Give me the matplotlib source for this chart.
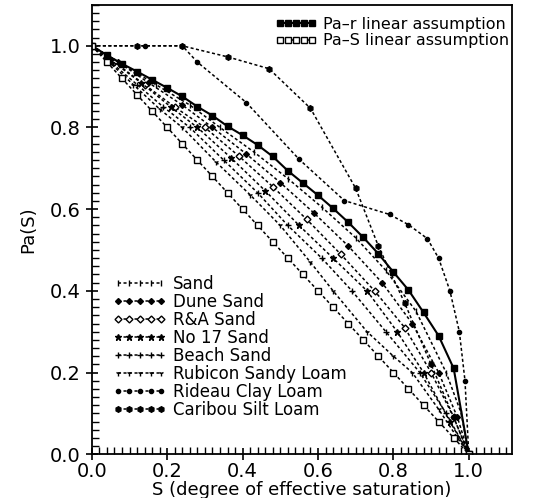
import matplotlib
matplotlib.use("Agg")
import matplotlib.pyplot as plt
from matplotlib.ticker import MultipleLocator

# Pa(S) model curves: linear assumptions
s_lin = [0.0, 0.04, 0.08, 0.12, 0.16, 0.20, 0.24, 0.28, 0.32, 0.36, 0.40, 0.44, 0.48,
         0.52, 0.56, 0.60, 0.64, 0.68, 0.72, 0.76, 0.80, 0.84, 0.88, 0.92, 0.96, 1.0]
pa_r = [1.0, 0.977, 0.956, 0.937, 0.917, 0.897, 0.876, 0.851, 0.829, 0.803, 0.781, 0.757, 0.729,
        0.694, 0.664, 0.634, 0.602, 0.568, 0.531, 0.491, 0.446, 0.402, 0.347, 0.290, 0.210, 0.0]
pa_s = [1.0, 0.96, 0.92, 0.88, 0.84, 0.80, 0.76, 0.72, 0.68, 0.64, 0.60, 0.56, 0.52,
        0.48, 0.44, 0.40, 0.36, 0.32, 0.28, 0.24, 0.20, 0.16, 0.12, 0.08, 0.04, 0.0]

# measured soils
s_sand = [0, 0.08, 0.17, 0.26, 0.34, 0.43, 0.52, 0.61, 0.70, 0.78, 0.86, 0.94, 0.98, 1.0]
p_sand = [1.0, 0.955, 0.905, 0.855, 0.80, 0.74, 0.675, 0.605, 0.53, 0.45, 0.35, 0.20, 0.10, 0.0]

s_dune = [0, 0.07, 0.15, 0.24, 0.32, 0.41, 0.50, 0.59, 0.68, 0.77, 0.85, 0.92, 0.97, 1.0]
p_dune = [1.0, 0.96, 0.91, 0.855, 0.80, 0.735, 0.665, 0.59, 0.51, 0.42, 0.32, 0.20, 0.09, 0.0]

s_ra = [0, 0.06, 0.14, 0.22, 0.30, 0.39, 0.48, 0.57, 0.66, 0.75, 0.83, 0.90, 0.96, 1.0]
p_ra = [1.0, 0.96, 0.905, 0.85, 0.80, 0.73, 0.655, 0.575, 0.49, 0.40, 0.31, 0.20, 0.09, 0.0]

s_no17 = [0, 0.05, 0.13, 0.21, 0.28, 0.37, 0.46, 0.55, 0.64, 0.73, 0.81, 0.88, 0.95, 1.0]
p_no17 = [1.0, 0.965, 0.91, 0.85, 0.80, 0.725, 0.645, 0.56, 0.48, 0.40, 0.30, 0.20, 0.08, 0.0]

s_beach = [0, 0.05, 0.12, 0.19, 0.26, 0.35, 0.44, 0.52, 0.61, 0.69, 0.78, 0.87, 0.94, 1.0]
p_beach = [1.0, 0.96, 0.905, 0.85, 0.80, 0.72, 0.64, 0.56, 0.48, 0.40, 0.30, 0.20, 0.10, 0.0]

s_rubicon = [0, 0.04, 0.11, 0.18, 0.24, 0.33, 0.42, 0.50, 0.58, 0.64, 0.73, 0.80, 0.85, 0.92, 0.97, 1.0]
p_rubicon = [1.0, 0.965, 0.905, 0.845, 0.80, 0.715, 0.635, 0.56, 0.47, 0.40, 0.30, 0.24, 0.20, 0.11, 0.04, 0.0]

s_rideau = [0, 0.14, 0.24, 0.28, 0.41, 0.55, 0.67, 0.79, 0.84, 0.89, 0.92, 0.95, 0.975, 0.99, 1.0]
p_rideau = [1.0, 1.0, 1.0, 0.96, 0.861, 0.722, 0.621, 0.587, 0.562, 0.528, 0.48, 0.40, 0.30, 0.18, 0.0]

s_caribou = [0, 0.12, 0.24, 0.36, 0.47, 0.58, 0.70, 0.76, 0.83, 0.90, 0.96, 1.0]
p_caribou = [1.0, 1.0, 1.0, 0.973, 0.944, 0.847, 0.651, 0.51, 0.37, 0.22, 0.09, 0.0]

soils = [
    ("Sand", s_sand, p_sand, dict(marker="|", ms=4)),
    ("Dune Sand", s_dune, p_dune, dict(marker="D", ms=3)),
    ("R&A Sand", s_ra, p_ra, dict(marker="D", ms=3.5, mfc="white")),
    ("No 17 Sand", s_no17, p_no17, dict(marker="*", ms=5)),
    ("Beach Sand", s_beach, p_beach, dict(marker="+", ms=4)),
    ("Rubicon Sandy Loam", s_rubicon, p_rubicon, dict(marker="1", ms=4)),
    ("Rideau Clay Loam", s_rideau, p_rideau, dict(marker="o", ms=3)),
    ("Caribou Silt Loam", s_caribou, p_caribou, dict(marker="h", ms=4)),
]

plt.rcParams["font.family"] = "DejaVu Sans"

fig = plt.figure(figsize=(5.34, 4.98), dpi=100)
ax = fig.add_axes([0.172, 0.088, 0.787, 0.902])

soil_lines = []
for name, s, p, mk in soils:
    ln, = ax.plot(s, p, color="black", lw=1.1, ls=(0, (2, 1.6)), mec="black",
                  mfc=mk.pop("mfc", "black"), label=name, **mk)
    soil_lines.append(ln)

l_r, = ax.plot(s_lin, pa_r, color="black", lw=1.5, marker="s", ms=4.5,
               label="Pa\u2013r linear assumption")
l_s, = ax.plot(s_lin, pa_s, color="black", lw=1.1, ls=(0, (2, 1.6)), marker="s", ms=4.5,
               mfc="white", mew=1.0, label="Pa\u2013S linear assumption")

ax.set_xlim(0, 1.115)
ax.set_ylim(0, 1.1)
ax.xaxis.set_major_locator(MultipleLocator(0.2))
ax.xaxis.set_minor_locator(MultipleLocator(0.02))
ax.yaxis.set_major_locator(MultipleLocator(0.2))
ax.yaxis.set_minor_locator(MultipleLocator(0.02))
ax.xaxis.set_major_formatter(plt.FormatStrFormatter("%.1f"))
ax.yaxis.set_major_formatter(plt.FormatStrFormatter("%.1f"))
ax.tick_params(which="major", direction="inout", length=9, width=1.2, labelsize=14,
               top=False, right=False)
ax.tick_params(axis="x", which="major", pad=1)
ax.tick_params(which="minor", direction="in", length=5, width=1.0, top=False, right=False)
for sp in ax.spines.values():
    sp.set_linewidth(1.3)

ax.set_xlabel("S (degree of effective saturation)", fontsize=13, labelpad=0)
ax.set_ylabel("Pa(S)", fontsize=13, labelpad=9)

leg1 = ax.legend(handles=[l_r, l_s], loc="upper right", bbox_to_anchor=(1.015, 0.995),
                 frameon=False, numpoints=5, handlelength=2.6, handletextpad=0.4,
                 labelspacing=0.1, fontsize=11.5, borderaxespad=0.2)
ax.add_artist(leg1)
ax.legend(handles=soil_lines, loc="lower left", bbox_to_anchor=(0.015, 0.045),
          frameon=False, numpoints=5, handlelength=3.2, handletextpad=0.4,
          labelspacing=0.0, fontsize=12)

fig.savefig("out.png", dpi=100)
